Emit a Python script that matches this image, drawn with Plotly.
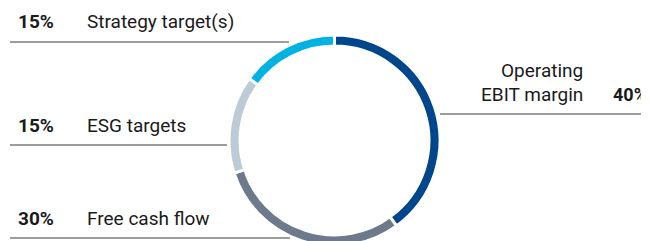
import plotly.graph_objects as go

categories = ["Operating EBIT margin", "Free cash flow", "ESG targets", "Strategy target(s)"]
shares = [40, 30, 15, 15]
colors = ["#00468c", "#6d7a8b", "#bccbd5", "#00b3e3"]

W, H = 649, 241
OFF = 8  # page body margin offset
FONT = "Roboto"
FS = 19
TXT = "#1a1a1a"

def px(x):
    return (x - OFF) / W

def py(y):
    return 1 - (y - OFF) / H

fig = go.Figure()
fig.add_trace(go.Pie(
    labels=categories, values=shares, sort=False, direction="clockwise", rotation=0,
    hole=0.895, textinfo="none", hoverinfo="label+percent",
    marker=dict(colors=colors, line=dict(color="white", width=3)),
    domain=dict(x=[px(229), px(440)], y=[py(246), py(35)]),
    showlegend=False,
))

annotations = []
shapes = []

left_items = [
    ("15%", "Strategy target(s)", 21, 42, 289),
    ("15%", "ESG targets", 125, 145, 227),
    ("30%", "Free cash flow", 218, 238, 290),
]
for pct, lab, ty, ly, lx2 in left_items:
    annotations.append(dict(x=px(16), y=py(ty), xref="paper", yref="paper", text="<b>%s</b>" % pct,
                            showarrow=False, xanchor="left", yanchor="middle",
                            font=dict(family=FONT, size=FS, color=TXT)))
    annotations.append(dict(x=px(85), y=py(ty), xref="paper", yref="paper", text=lab,
                            showarrow=False, xanchor="left", yanchor="middle",
                            font=dict(family=FONT, size=FS, color=TXT)))
    shapes.append(dict(type="line", xref="paper", yref="paper", x0=px(10), x1=px(lx2),
                       y0=py(ly), y1=py(ly), line=dict(color="#3a3a3a", width=1.2)))

annotations.append(dict(x=px(585), y=py(71), xref="paper", yref="paper", text="Operating",
                        showarrow=False, xanchor="right", yanchor="middle",
                        font=dict(family=FONT, size=FS, color=TXT)))
annotations.append(dict(x=px(585), y=py(94), xref="paper", yref="paper", text="EBIT margin",
                        showarrow=False, xanchor="right", yanchor="middle",
                        font=dict(family=FONT, size=FS, color=TXT)))
annotations.append(dict(x=px(611), y=py(94), xref="paper", yref="paper", text="<b>40%</b>",
                        showarrow=False, xanchor="left", yanchor="middle",
                        font=dict(family=FONT, size=18, color=TXT)))
shapes.append(dict(type="line", xref="paper", yref="paper", x0=px(440), x1=1.0,
                   y0=py(114), y1=py(114), line=dict(color="#3a3a3a", width=1.2)))

fig.update_layout(
    width=W, height=H, margin=dict(l=0, r=0, t=0, b=0),
    paper_bgcolor="white", plot_bgcolor="white",
    annotations=annotations, shapes=shapes,
)
fig.write_html("out.html")
